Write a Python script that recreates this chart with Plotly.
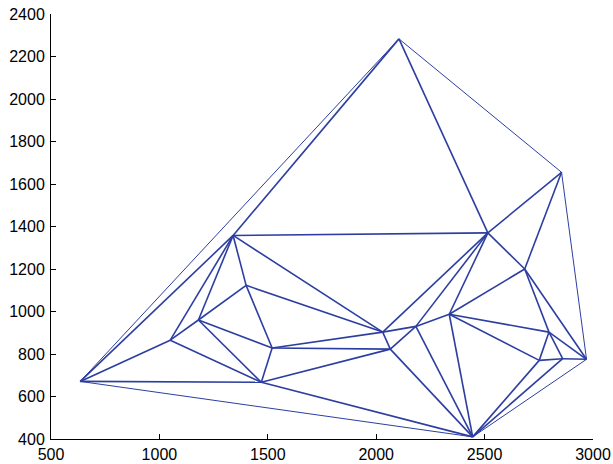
import plotly.graph_objects as go

# Node coordinates (triangulation vertices)
node_names = ["A","B","C","D","E","F","G","H","I","J","K","L","M","N","O","P","Q","R","S","T"]
node_x = [635, 2105, 2855, 1340, 2515, 2685, 1400, 1180, 1050, 1520, 1470, 2030, 2065, 2183, 2337, 2797, 2752, 2860, 2970, 2445]
node_y = [671, 2283, 1655, 1358, 1370, 1200, 1123, 960, 865, 828, 667, 903, 823, 930, 987, 903, 770, 778, 775, 410]

# Hull edges (drawn once -> thinner) and interior edges
hull_edges = ["A-B", "B-C", "C-S", "S-T", "A-T"]
inner_edges = ["A-D", "A-I", "A-K", "B-D", "B-E", "C-E", "C-F", "D-E", "D-I", "D-H",
               "D-G", "D-L", "E-F", "E-L", "E-N", "E-O", "F-O", "F-P", "F-S", "G-H",
               "G-J", "G-L", "H-I", "H-J", "H-K", "I-K", "J-K", "J-L", "J-M", "K-M",
               "K-T", "L-M", "L-N", "M-N", "M-T", "N-O", "N-T", "O-P", "O-Q", "O-T",
               "P-Q", "P-R", "P-S", "Q-R", "Q-T", "R-S", "R-T"]

x_ticks = [500, 1000, 1500, 2000, 2500, 3000]
y_ticks = [400, 600, 800, 1000, 1200, 1400, 1600, 1800, 2000, 2200, 2400]

idx = {n: i for i, n in enumerate(node_names)}

def segs(edges):
    xs, ys = [], []
    for e in edges:
        a, b = e.split("-")
        xs += [node_x[idx[a]], node_x[idx[b]], None]
        ys += [node_y[idx[a]], node_y[idx[b]], None]
    return xs, ys

color = "rgb(44,62,160)"
fig = go.Figure()
hx, hy = segs(hull_edges)
ix, iy = segs(inner_edges)
fig.add_trace(go.Scatter(x=hx, y=hy, mode="lines", line=dict(color=color, width=1.0), hoverinfo="skip", cliponaxis=False))
fig.add_trace(go.Scatter(x=ix, y=iy, mode="lines", line=dict(color=color, width=1.6), hoverinfo="skip", cliponaxis=False))

axis_common = dict(showgrid=False, zeroline=False, showline=True, linecolor="black", linewidth=1,
                   ticks="inside", ticklen=5, tickcolor="black", tickwidth=1, automargin=False,
                   ticklabeloverflow="allow",
                   tickfont=dict(family="Liberation Sans, Arial, sans-serif", size=16, color="black"))
fig.update_xaxes(range=[500, 3000], tickvals=x_ticks, ticktext=[str(v) for v in x_ticks],
                 ticklabelstandoff=1, **axis_common)
fig.update_yaxes(range=[400, 2400], tickvals=y_ticks, ticktext=[str(v) for v in y_ticks],
                 ticklabelstandoff=2, **axis_common)

fig.update_layout(width=613, height=464, showlegend=False,
                  margin=dict(l=51, r=20, t=14, b=25, pad=0),
                  paper_bgcolor="white", plot_bgcolor="white")
fig.write_html("out.html", config={"displayModeBar": False},
               post_script="document.body.style.margin='0';")
